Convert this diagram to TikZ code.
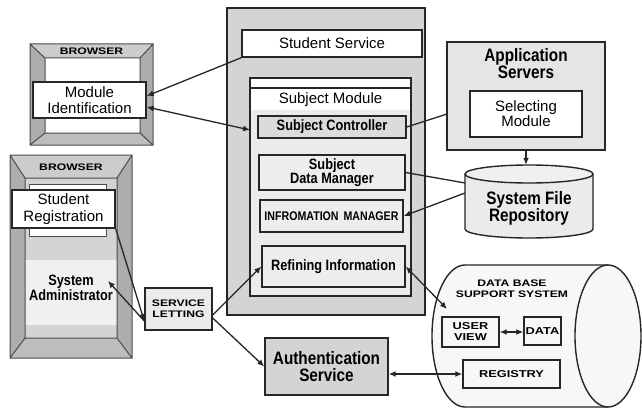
\documentclass[tikz,border=0pt]{standalone}
\usepackage{fontspec}
\setmainfont{Liberation Sans}
\newfontfamily\nbf{Liberation Sans}[FakeStretch=0.85]
\newfontfamily\wbf{Liberation Sans}[FakeStretch=1.28]
\usetikzlibrary{arrows.meta}
\newcommand\fRg{\fontsize{15}{16}\selectfont}
\newcommand\fBn{\nbf\bfseries\fontsize{15}{13}\selectfont}
\newcommand\fBig{\nbf\bfseries\fontsize{18}{17}\selectfont}
\newcommand\fWide{\wbf\bfseries\fontsize{9.5}{11}\selectfont}
\begin{document}
\begin{tikzpicture}[x=1pt,y=-1pt,>={Latex[length=7pt,width=6pt]}]
\tikzset{
  bx/.style={draw=black!85, line width=1.4pt, inner sep=0pt, align=center},
  conn/.style={line width=1.3pt, draw=black!85},
  frm/.style={draw=black!70, line width=1pt},
  cyl/.style={draw=black!85, line width=1.4pt}
}
\useasboundingbox (0,0) rectangle (642,412);
\fill[white] (0,0) rectangle (642,412);

% Browser 1
\fill[black!32] (30,44) rectangle (153,145);
\fill[black!20] (30,44) -- (153,44) -- (140,58) -- (45,58) -- cycle;
\fill[black!26] (30,145) -- (153,145) -- (140,133) -- (45,133) -- cycle;
\fill[white] (45,58) rectangle (140,133);
\draw[frm] (30,44) rectangle (153,145) (45,58) rectangle (140,133)
  (30,44) -- (45,58) (153,44) -- (140,58) (30,145) -- (45,133) (153,145) -- (140,133);
\node[font=\fWide] (b1) at (91.5,51) {BROWSER};

% Browser 2
\fill[black!32] (10,155) rectangle (132,358);
\fill[black!20] (10,155) -- (132,155) -- (117,178) -- (25,178) -- cycle;
\fill[black!26] (10,358) -- (132,358) -- (117,338) -- (25,338) -- cycle;
\fill[black!17] (25,178) rectangle (117,338);
\fill[black!6] (25,260) rectangle (117,325);
\draw[frm] (10,155) rectangle (132,358) (25,178) rectangle (117,338)
  (10,155) -- (25,178) (132,155) -- (117,178) (10,358) -- (25,338) (132,358) -- (117,338);
\draw[frm, fill=white] (29,184) rectangle (106,236);
\node[font=\fWide] (b2) at (71,167) {BROWSER};

% central container
\node[bx, fill=black!17, minimum width=198, minimum height=307] (cont) at (326,161.5) {};
\node[bx, fill=black!8, minimum width=161, minimum height=218] (sm) at (330.5,187) {};
\fill[white] (251,79) rectangle (410,110);
\draw[black!85, line width=1.4pt] (250,88) -- (411,88);
\node[font=\fRg] (smt) at (330.5,99.5) {Subject Module};
\coordinate (smL) at (250,130);

\node[bx, fill=white, minimum width=180, minimum height=27, font=\fRg] (ss) at (332,43.5) {Student Service};
\node[bx, fill=black!14, minimum width=148, minimum height=22, font=\fBn] (sc) at (332,127) {Subject Controller};
\node[bx, fill=black!7, minimum width=146, minimum height=35, font=\nbf\bfseries\fontsize{15}{12}\selectfont] (sdm) at (332,172.5) {Subject\\Data Manager};
\node[bx, fill=black!7, minimum width=143, minimum height=32, font=\nbf\bfseries\fontsize{12.5}{13}\selectfont] (im) at (331.5,216) {INFROMATION\hspace{2pt} MANAGER};
\node[bx, fill=black!7, minimum width=143, minimum height=41, font=\fBn] (ri) at (333.5,266.5) {Refining Information};

% Application servers
\node[bx, fill=black!10, minimum width=158, minimum height=108] (as) at (526,96) {};
\node[font=\fBig, align=center] (ast) at (526,64) {Application\\Servers};
\node[bx, fill=white, minimum width=112, minimum height=46, font=\fontsize{15}{15}\selectfont] (sel) at (526,114) {Selecting\\Module};
\coordinate (asL) at (447,114);

% System file repository
\node[minimum width=128, minimum height=73, inner sep=0pt] (sfr) at (529,201.5) {};
\fill[black!8] (465,174) rectangle (593,229);
\fill[black!8] (529,229) ellipse [x radius=64pt, y radius=9pt];
\draw[cyl] (465,174) -- (465,229) arc[start angle=180, end angle=360, x radius=64pt, y radius=9pt] -- (593,174);
\draw[cyl, fill=black!6] (529,174) ellipse [x radius=64pt, y radius=9pt];
\node[font=\fBig, align=center] (sfrt) at (529,208) {System File\\Repository};
\coordinate (sfrA) at (465,183);
\coordinate (sfrB) at (465,193);

% Data base support system
\node[minimum width=209, minimum height=142, inner sep=0pt] (db) at (536.5,336) {};
\fill[black!3] (465,265) rectangle (608,407);
\fill[black!3] (465,336) ellipse [x radius=33pt, y radius=71pt];
\draw[cyl] (608,265) -- (465,265) arc[start angle=90, end angle=270, x radius=33pt, y radius=71pt] -- (608,407);
\draw[cyl, fill=black!3] (608,336) ellipse [x radius=33pt, y radius=71pt];
\node[font=\fWide, align=center] (dbt) at (512,289) {DATA BASE\\SUPPORT SYSTEM};
\coordinate (dbA) at (447,309);
\node[bx, fill=black!3, minimum width=57, minimum height=30, font=\wbf\bfseries\fontsize{10}{11}\selectfont] (uv) at (470.5,332) {USER\\VIEW};
\node[bx, fill=black!3, minimum width=37, minimum height=28, font=\wbf\bfseries\fontsize{10}{11}\selectfont] (data) at (542.5,331) {DATA};
\node[bx, fill=black!3, minimum width=97, minimum height=28, font=\wbf\bfseries\fontsize{10}{11}\selectfont] (reg) at (511.5,374) {REGISTRY};

% Authentication service
\node[bx, fill=black!17, minimum width=123, minimum height=57, font=\fBig] (auth) at (326.5,366.5) {Authentication\\Service};

% Service letting
\node[bx, fill=black!8, minimum width=67, minimum height=42, font=\fWide] (sl) at (178.5,309) {SERVICE\\LETTING};

% Browser contents
\node[bx, fill=white, minimum width=113, minimum height=36, font=\fRg] (mi) at (89.5,100) {Module\\Identification};
\node[bx, fill=white, minimum width=103, minimum height=38, font=\fontsize{15}{17}\selectfont] (sr) at (63.5,209) {Student\\Registration};
\node[font=\nbf\bfseries\fontsize{15}{15}\selectfont, align=center] (sa) at (71,288) {System\\Administrator};
\coordinate (saA) at (108,281);

% connectors
\draw[conn,->] (ss.south west) -- ([yshift=4pt]mi.east);
\draw[conn,<->] ([yshift=-7pt]mi.east) -- (smL);
\draw[conn] (sc.east) -- (asL);
\draw[conn,->] (as.south) -- (as.south |- sfr.north);
\draw[conn] (sdm.east) -- (sfrA);
\draw[conn,->] (sfrB) -- (im.east);
\draw[conn,<->] (ri.east) -- (dbA);
\draw[conn,<->] (uv.east) -- (uv.east -| data.west);
\draw[conn,->] ([yshift=-6pt]sl.east) -- (ri.west);
\draw[conn,->] ([yshift=-9pt]sl.east) -- (auth.west);
\draw[conn,<->] (reg.west) -- (auth.east |- reg.west);
\draw[conn,->] (sr.south east) -- ([yshift=-12pt]sl.west);
\draw[conn,->] ([yshift=-12pt]sl.west) -- (saA);
\end{tikzpicture}
\end{document}
